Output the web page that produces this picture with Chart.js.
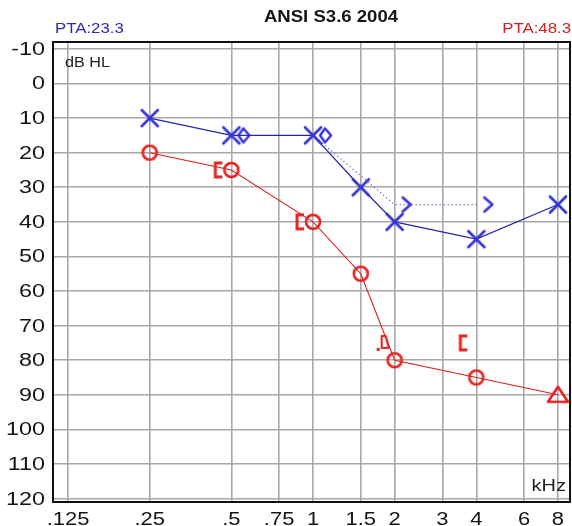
<!DOCTYPE html>
<html>
<head>
<meta charset="utf-8">
<script src="https://cdn.jsdelivr.net/npm/chart.js@4.4.0/dist/chart.umd.min.js"></script>
<style>
  html, body { margin: 0; padding: 0; background: #fff; }
</style>
</head>
<body>
<canvas id="audiogram" width="572" height="526"></canvas>
<script>
// axis ticks (kHz / dB HL)
var freqTicks = [0.125, 0.25, 0.5, 0.75, 1, 1.5, 2, 3, 4, 6, 8];
var freqLabels = [".125", ".25", ".5", ".75", "1", "1.5", "2", "3", "4", "6", "8"];
var dbTicks = [-10, 0, 10, 20, 30, 40, 50, 60, 70, 80, 90, 100, 110, 120];

// blue ear, air conduction (X)
var blueAcFreq = [0.25, 0.5, 1, 1.5, 2, 4, 8];
var blueAcDb = [10, 15, 15, 30, 40, 45, 35];
// blue ear, bone conduction
var blueBcFreq = [0.5, 1, 2, 4];
var blueBcDb = [15, 15, 35, 35];
// red ear, air conduction (O)
var redAcFreq = [0.25, 0.5, 1, 1.5, 2, 4, 8];
var redAcDb = [20, 25, 40, 55, 80, 85, 90];
// red ear, masked bone conduction
var redBcFreq = [0.5, 1, 2, 4];
var redBcDb = [25, 40, 75, 75];

var ptaLeft = "PTA:23.3";
var ptaRight = "PTA:48.3";

var BLUE = "#3434d6";
var RED = "#e42424";
var FONT = "'Liberation Sans', Arial, sans-serif";

function pts(xs, ys) {
  return xs.map(function (x, i) { return { x: x, y: ys[i] }; });
}

// little canvases used as point symbols (padding shifts bone symbols sideways)
function symbol(w, h, draw) {
  var c = document.createElement("canvas");
  c.width = w; c.height = h;
  var g = c.getContext("2d");
  g.lineCap = "round";
  g.lineJoin = "round";
  draw(g);
  return c;
}

var symX = symbol(22, 22, function (g) {
  g.strokeStyle = BLUE; g.lineWidth = 2.7;
  g.beginPath();
  g.moveTo(3, 3); g.lineTo(19, 19);
  g.moveTo(19, 3); g.lineTo(3, 19);
  g.stroke();
});
var symO = symbol(20, 20, function (g) {
  g.strokeStyle = RED; g.lineWidth = 2.7;
  g.beginPath();
  g.arc(10, 10, 7, 0, Math.PI * 2);
  g.stroke();
});
var symTri = symbol(26, 22, function (g) {
  g.strokeStyle = RED; g.lineWidth = 2.7;
  g.beginPath();
  g.moveTo(13, 3); g.lineTo(23, 18); g.lineTo(3, 18); g.closePath();
  g.stroke();
});
// diamond-ish bone symbol, right of the point
var symDiamond = symbol(40, 20, function (g) {
  g.strokeStyle = BLUE; g.lineWidth = 2.4;
  g.beginPath();
  g.moveTo(32, 3); g.lineTo(38, 10); g.lineTo(32, 17); g.lineTo(27, 10); g.closePath();
  g.stroke();
});
// ">" right of the point
var symGt = symbol(40, 20, function (g) {
  g.strokeStyle = BLUE; g.lineWidth = 2.6;
  g.beginPath();
  g.moveTo(28, 3); g.lineTo(36, 10); g.lineTo(28, 17);
  g.stroke();
});
// "[" left of the point
var symBracket = symbol(40, 20, function (g) {
  g.strokeStyle = RED; g.lineWidth = 3;
  g.lineCap = "butt"; g.lineJoin = "miter";
  g.beginPath();
  g.moveTo(11, 3); g.lineTo(4, 3); g.lineTo(4, 17); g.lineTo(11, 17);
  g.stroke();
});
// small odd symbol left of the 2k point
var symSmall = symbol(40, 24, function (g) {
  g.strokeStyle = RED; g.lineWidth = 2;
  g.beginPath();
  g.moveTo(7, 5); g.lineTo(11, 5); g.lineTo(14, 17); g.lineTo(7, 17); g.closePath();
  g.stroke();
  g.fillStyle = RED;
  g.fillRect(2, 17, 3, 3);
});

// the picture's lettering is a bit wide, so stretch it sideways
function wideText(ctx, text, x, y, align, sx) {
  ctx.save();
  ctx.translate(x, y);
  ctx.scale(sx, 1);
  ctx.textAlign = align;
  ctx.fillText(text, 0, 0);
  ctx.restore();
}

var textPlugin = {
  id: "audioText",
  afterDraw: function (chart) {
    var ctx = chart.ctx, a = chart.chartArea;
    var xs = chart.scales.x, ys = chart.scales.y;
    ctx.save();
    // frame on all four sides
    ctx.strokeStyle = "#111";
    ctx.lineWidth = 2;
    ctx.strokeRect(a.left, a.top, a.right - a.left, a.bottom - a.top);

    ctx.textBaseline = "middle";
    ctx.fillStyle = "#151515";
    ctx.font = "18px " + FONT;
    dbTicks.forEach(function (v) {
      wideText(ctx, String(v), 45, ys.getPixelForValue(v) + 1, "right", 1.3);
    });
    freqTicks.forEach(function (f, i) {
      wideText(ctx, freqLabels[i], xs.getPixelForValue(f), 520, "center", 1.22);
    });

    ctx.font = "bold 16px " + FONT;
    wideText(ctx, "ANSI S3.6 2004", 331, 18, "center", 1.16);

    ctx.font = "14px " + FONT;
    ctx.fillStyle = "#2a2ab8";
    wideText(ctx, ptaLeft, 55, 29, "left", 1.2);
    ctx.fillStyle = "#cc2020";
    wideText(ctx, ptaRight, 571, 29, "right", 1.2);

    ctx.fillStyle = "#222";
    ctx.font = "15px " + FONT;
    wideText(ctx, "dB HL", 65, 63, "left", 1.08);
    ctx.font = "16px " + FONT;
    wideText(ctx, "kHz", 566, 487, "right", 1.25);
    ctx.restore();
  }
};

new Chart("audiogram", {
  type: "line",
  data: {
    datasets: [{
      label: "blue AC",
      data: pts(blueAcFreq, blueAcDb),
      borderColor: "#2525a8",
      borderWidth: 1.2,
      pointStyle: symX,
      order: 2
    }, {
      label: "blue BC",
      data: pts(blueBcFreq, blueBcDb),
      borderColor: "#4a4acc",
      borderWidth: 1.2,
      borderDash: [1, 3],
      segment: {
        borderColor: function (ctx) { return ctx.p0DataIndex === 0 ? "rgba(0,0,0,0)" : "#4a4acc"; }
      },
      pointStyle: [symDiamond, symDiamond, symGt, symGt],
      order: 3
    }, {
      label: "red AC",
      data: pts(redAcFreq, redAcDb),
      borderColor: "#d82020",
      borderWidth: 1.1,
      pointStyle: [symO, symO, symO, symO, symO, symO, symTri],
      order: 1
    }, {
      label: "red BC",
      data: pts(redBcFreq, redBcDb),
      showLine: false,
      pointStyle: [symBracket, symBracket, symSmall, symBracket],
      order: 4
    }]
  },
  options: {
    responsive: false,
    animation: false,
    devicePixelRatio: 1,
    layout: { padding: { top: 42, right: 2, left: 0, bottom: 0 }, autoPadding: false },
    plugins: {
      legend: { display: false },
      title: { display: false },
      tooltip: { enabled: false }
    },
    scales: {
      x: {
        type: "logarithmic",
        min: 0.11,
        max: 8.86,
        afterBuildTicks: function (s) {
          s.ticks = freqTicks.map(function (v) { return { value: v }; });
        },
        afterFit: function (s) { s.height = 24; },
        ticks: { display: false, autoSkip: false, maxRotation: 0 },
        grid: { color: "#a8a8a8", lineWidth: 1.6, drawTicks: false },
        border: { color: "#111", width: 2 }
      },
      y: {
        type: "linear",
        reverse: true,
        min: -12,
        max: 121,
        afterBuildTicks: function (s) {
          s.ticks = dbTicks.map(function (v) { return { value: v }; });
        },
        afterFit: function (s) { s.width = 53; },
        ticks: { display: false },
        grid: { color: "#a8a8a8", lineWidth: 1.6, drawTicks: false },
        border: { color: "#111", width: 2 }
      }
    }
  },
  plugins: [textPlugin]
});
</script>
</body>
</html>
